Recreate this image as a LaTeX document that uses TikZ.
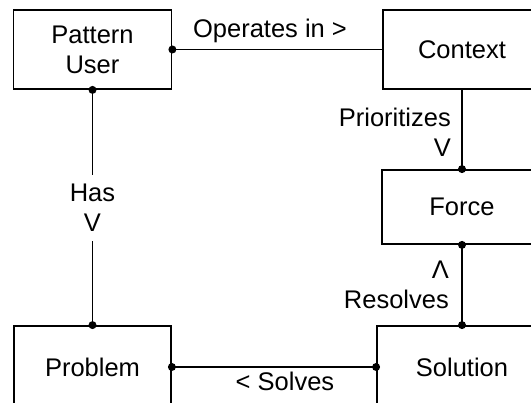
\documentclass[tikz,border=0pt]{standalone}
\usepackage{fontspec}
\setmainfont{Liberation Sans}
\begin{document}
\begin{tikzpicture}[x=1pt,y=-1pt,
  every node/.style={font=\fontsize{25.5}{30}\selectfont},
  entity/.style={draw,line width=1.8pt,rectangle,align=center,inner sep=0pt},
  link/.style={line width=1.8pt},
  lbl/.style={inner sep=0pt,align=center},
  dot/.style={circle,fill=black,inner sep=0pt,minimum size=8pt}]
\useasboundingbox (0,0) rectangle (531,403);
\clip (0,0) rectangle (531,403);
% entities
\node[entity,minimum width=158pt,minimum height=79pt] (user) at (92.5,49.5) {Pattern\\User};
\node[entity,minimum width=158pt,minimum height=79pt] (ctx) at (462,49.5) {Context};
\node[entity,minimum width=160pt,minimum height=74pt] (force) at (462,207) {Force};
\node[entity,minimum width=157pt,minimum height=82pt] (prob) at (92.5,367) {Problem};
\node[entity,minimum width=170pt,minimum height=82pt] (sol) at (462,367) {Solution};
% relations
\draw[link] (user.east) -- (ctx.west);
\node[dot] at (user.east) {};
\node[lbl] (op) at (270,30.5) {Operates in >};

\draw[link] (ctx.south) -- (force.north);
\node[dot] at (force.north) {};
\node[lbl,align=right,anchor=east] (prio) at (451,132) {Prioritizes\\V};

\draw[link] (force.south) -- (sol.north);
\node[dot] at (force.south) {};
\node[dot] at (sol.north) {};
\node[lbl,align=right,anchor=east] (res) at (449,285) {Λ\\Resolves};

\draw[link] (prob.east) -- (sol.west);
\node[dot] at (prob.east) {};
\node[dot] at (sol.west) {};
\node[lbl] (solves) at (285,381) {< Solves};

\draw[link] (user.south) -- (prob.north);
\node[dot] at (user.south) {};
\node[dot] at (prob.north) {};
\node[lbl,fill=white,inner ysep=9pt,inner xsep=4pt] (has) at (92.5,208) {Has\\V};
\end{tikzpicture}
\end{document}
